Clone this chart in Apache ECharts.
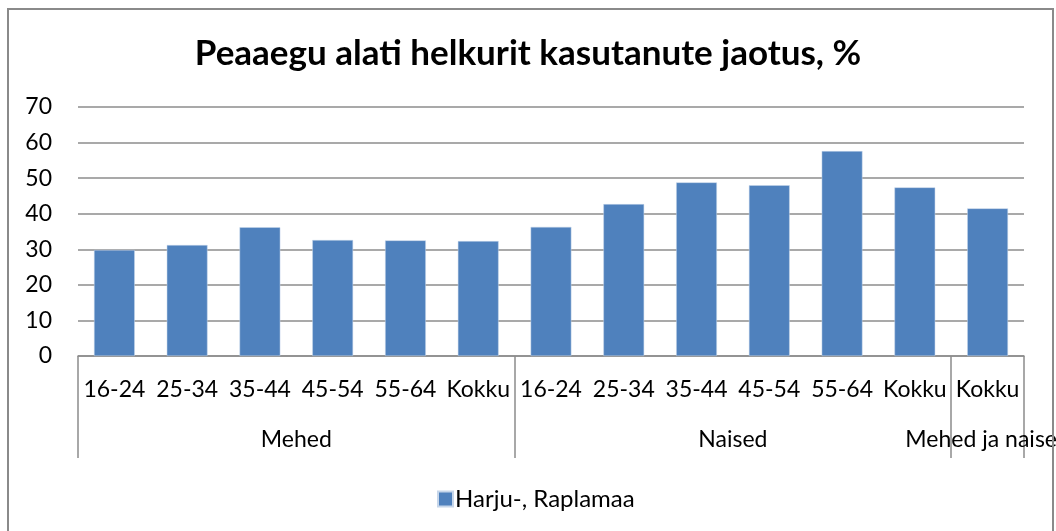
<!DOCTYPE html>
<html>
<head>
<meta charset="utf-8">
<script src="https://cdn.jsdelivr.net/npm/echarts@6/dist/echarts.min.js"></script>
<style>
  html, body { margin: 0; padding: 0; background: #fff; }
  #main { width: 1056px; height: 531px; }
</style>
</head>
<body>
<div id="main"></div>
<script>
var myChart = echarts.init(document.getElementById('main'));

// andmed
var ageGroups = ['16-24', '25-34', '35-44', '45-54', '55-64', 'Kokku',
                 '16-24', '25-34', '35-44', '45-54', '55-64', 'Kokku',
                 'Kokku'];
var groupNames = ['Mehed', 'Naised', 'Mehed ja naised'];
var groupSizes = [6, 6, 1];
var seriesName = 'Harju-, Raplamaa';
var values = [29.8, 31.2, 36.2, 32.6, 32.5, 32.3,
              36.3, 42.7, 48.8, 48.0, 57.6, 47.4,
              41.5];
var yTicks = [0, 10, 20, 30, 40, 50, 60, 70];

var FONT = 'Lato, "Noto Sans", sans-serif';
var GRID_COLOR = '#8c8c8c';

// grupipiirid ja -keskpunktid
var bounds = [0];
var centers = [];
var pos = 0;
for (var i = 0; i < groupSizes.length; i++) {
    centers.push(pos + groupSizes[i] / 2);
    pos += groupSizes[i];
    bounds.push(pos);
}

var option = {
    backgroundColor: '#fff',
    animation: false,
    title: {
        text: 'Peaaegu alati helkurit kasutanute jaotus, %',
        left: 'center',
        top: 31,
        textStyle: { fontFamily: FONT, fontSize: 35, fontWeight: 'bold', color: '#000' }
    },
    legend: {
        top: 482,
        left: 432,
        itemWidth: 15,
        itemHeight: 15,
        itemGap: 5,
        icon: 'rect',
        textStyle: { fontFamily: FONT, fontSize: 24, color: '#000', padding: [0, 0, 0, -3] },
        data: [seriesName]
    },
    grid: { left: 78, right: 32, top: 107, bottom: 175, outerBoundsMode: 'none', containLabel: false },
    xAxis: [{
        type: 'category',
        data: ageGroups,
        axisLine: { lineStyle: { color: GRID_COLOR, width: 1.5 } },
        axisTick: { show: false },
        axisLabel: { margin: 22, fontFamily: FONT, fontSize: 23, color: '#000', interval: 0 }
    }, {
        type: 'value',
        position: 'bottom',
        min: 0,
        max: ageGroups.length,
        axisLine: { show: false },
        splitLine: { show: false },
        axisTick: {
            show: true,
            length: 102,
            customValues: bounds,
            lineStyle: { color: GRID_COLOR, width: 1.5 }
        },
        axisLabel: {
            margin: 72,
            customValues: centers,
            fontFamily: FONT, fontSize: 23, color: '#000',
            formatter: function (value) {
                var idx = centers.indexOf(value);
                return idx > -1 ? groupNames[idx] : '';
            }
        }
    }],
    yAxis: {
        type: 'value',
        min: yTicks[0],
        max: yTicks[yTicks.length - 1],
        interval: 10,
        axisLine: { show: false },
        axisTick: { show: false },
        axisLabel: { margin: 26, fontFamily: FONT, fontSize: 23, color: '#000' },
        splitLine: { lineStyle: { color: GRID_COLOR, width: 1.5 } }
    },
    series: [{
        name: seriesName,
        type: 'bar',
        xAxisIndex: 0,
        data: values,
        barCategoryGap: '44%',
        itemStyle: { color: '#4F81BD', borderColor: '#c6d6ea', borderWidth: 0.5 }
    }],
    graphic: [{
        type: 'rect',
        z: 100,
        shape: { x: 8, y: 9, width: 1045, height: 540 },
        style: { fill: 'none', stroke: '#8a8a8a', lineWidth: 2 }
    }]
};

myChart.setOption(option);
</script>
</body>
</html>
